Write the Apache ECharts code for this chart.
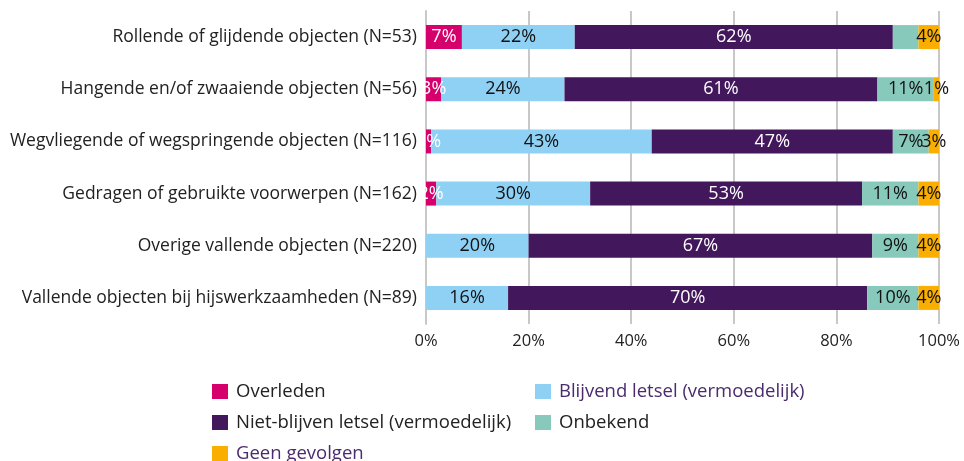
<!DOCTYPE html>
<html>
<head>
<meta charset="utf-8">
<script src="https://cdn.jsdelivr.net/npm/echarts@6/dist/echarts.min.js"></script>
<style>
  html, body { margin: 0; padding: 0; background: #fff; }
  #chart { width: 964px; height: 461px; }
</style>
</head>
<body>
<div id="chart"></div>
<script>
var categories = [
    'Rollende of glijdende objecten (N=53)',
    'Hangende en/of zwaaiende objecten (N=56)',
    'Wegvliegende of wegspringende objecten (N=116)',
    'Gedragen of gebruikte voorwerpen (N=162)',
    'Overige vallende objecten (N=220)',
    'Vallende objecten bij hijswerkzaamheden (N=89)'
];
var overleden   = [7, 3, 1, 2, 0, 0];
var blijvend    = [22, 24, 43, 30, 20, 16];
var nietBlijven = [62, 61, 47, 53, 67, 70];
var onbekend    = [5, 11, 7, 11, 9, 10];
var geenGevolg  = [4, 1, 3, 4, 4, 4];
var xTicks = ['0%', '20%', '40%', '60%', '80%', '100%'];

var fontName = 'Open Sans';
var purpleText = '#4b2a6e';

// which labels are not printed in the original (Rollende: onbekend)
var hideLabel = {onbekend: [0]};

function makeSeries(name, values, color, textColor, key){
    return {
        name: name,
        type: 'bar',
        stack: 'total',
        barWidth: 24,
        itemStyle: {color: color},
        label: {
            show: true,
            position: 'inside',
            color: textColor,
            fontFamily: fontName,
            fontSize: 18,
            formatter: function(p){ return p.value > 0 ? p.value + '%' : ''; }
        },
        data: values.map(function(v, i){
            var item = {value: v};
            if (hideLabel[key] && hideLabel[key].indexOf(i) >= 0)
                item.label = {show: false};
            return item;
        })
    };
}

// legend: one small legend per entry so the two-column layout is exact
var legendItems = [
    {name: 'Overleden', left: 212, top: 382, color: '#222'},
    {name: 'Blijvend letsel (vermoedelijk)', left: 535, top: 382, color: purpleText},
    {name: 'Niet-blijven letsel (vermoedelijk)', left: 212, top: 413, color: '#222'},
    {name: 'Onbekend', left: 535, top: 413, color: '#222'},
    {name: 'Geen gevolgen', left: 212, top: 444, color: purpleText}
];
var legends = legendItems.map(function(it){
    return {
        left: it.left,
        top: it.top,
        padding: 0,
        itemWidth: 16,
        itemHeight: 15,
        icon: 'rect',
        textStyle: {fontSize: 18.5, fontFamily: fontName, color: it.color, padding: [0, 0, 0, 3]},
        data: [it.name]
    };
});

var chart = echarts.init(document.getElementById('chart'));

var option = {
    animation: false,
    textStyle: {fontFamily: fontName},
    grid: {left: 426, right: 25, top: 11, bottom: 137, containLabel: false},
    xAxis: {
        type: 'value',
        min: 0,
        max: 100,
        interval: 20,
        axisLine: {show: false},
        axisTick: {show: false},
        splitLine: {lineStyle: {color: '#c8c8c8', width: 2}},
        axisLabel: {
            color: '#222',
            fontSize: 16.5,
            fontFamily: fontName,
            margin: 9,
            formatter: function(v){ return xTicks[v / 20]; }
        }
    },
    yAxis: {
        type: 'category',
        inverse: true,
        data: categories,
        axisLine: {lineStyle: {color: '#c8c8c8', width: 2}},
        axisTick: {show: false},
        axisLabel: {color: '#222', fontSize: 17.5, fontFamily: fontName, margin: 9}
    },
    legend: legends,
    series: [
        makeSeries('Overleden', overleden, '#d5006b', '#fff', 'overleden'),
        makeSeries('Blijvend letsel (vermoedelijk)', blijvend, '#8fd1f4', '#111', 'blijvend'),
        makeSeries('Niet-blijven letsel (vermoedelijk)', nietBlijven, '#42175c', '#fff', 'nietBlijven'),
        makeSeries('Onbekend', onbekend, '#87cabc', '#111', 'onbekend'),
        makeSeries('Geen gevolgen', geenGevolg, '#f9ae00', '#111', 'geenGevolg')
    ]
};

chart.setOption(option);
</script>
</body>
</html>
